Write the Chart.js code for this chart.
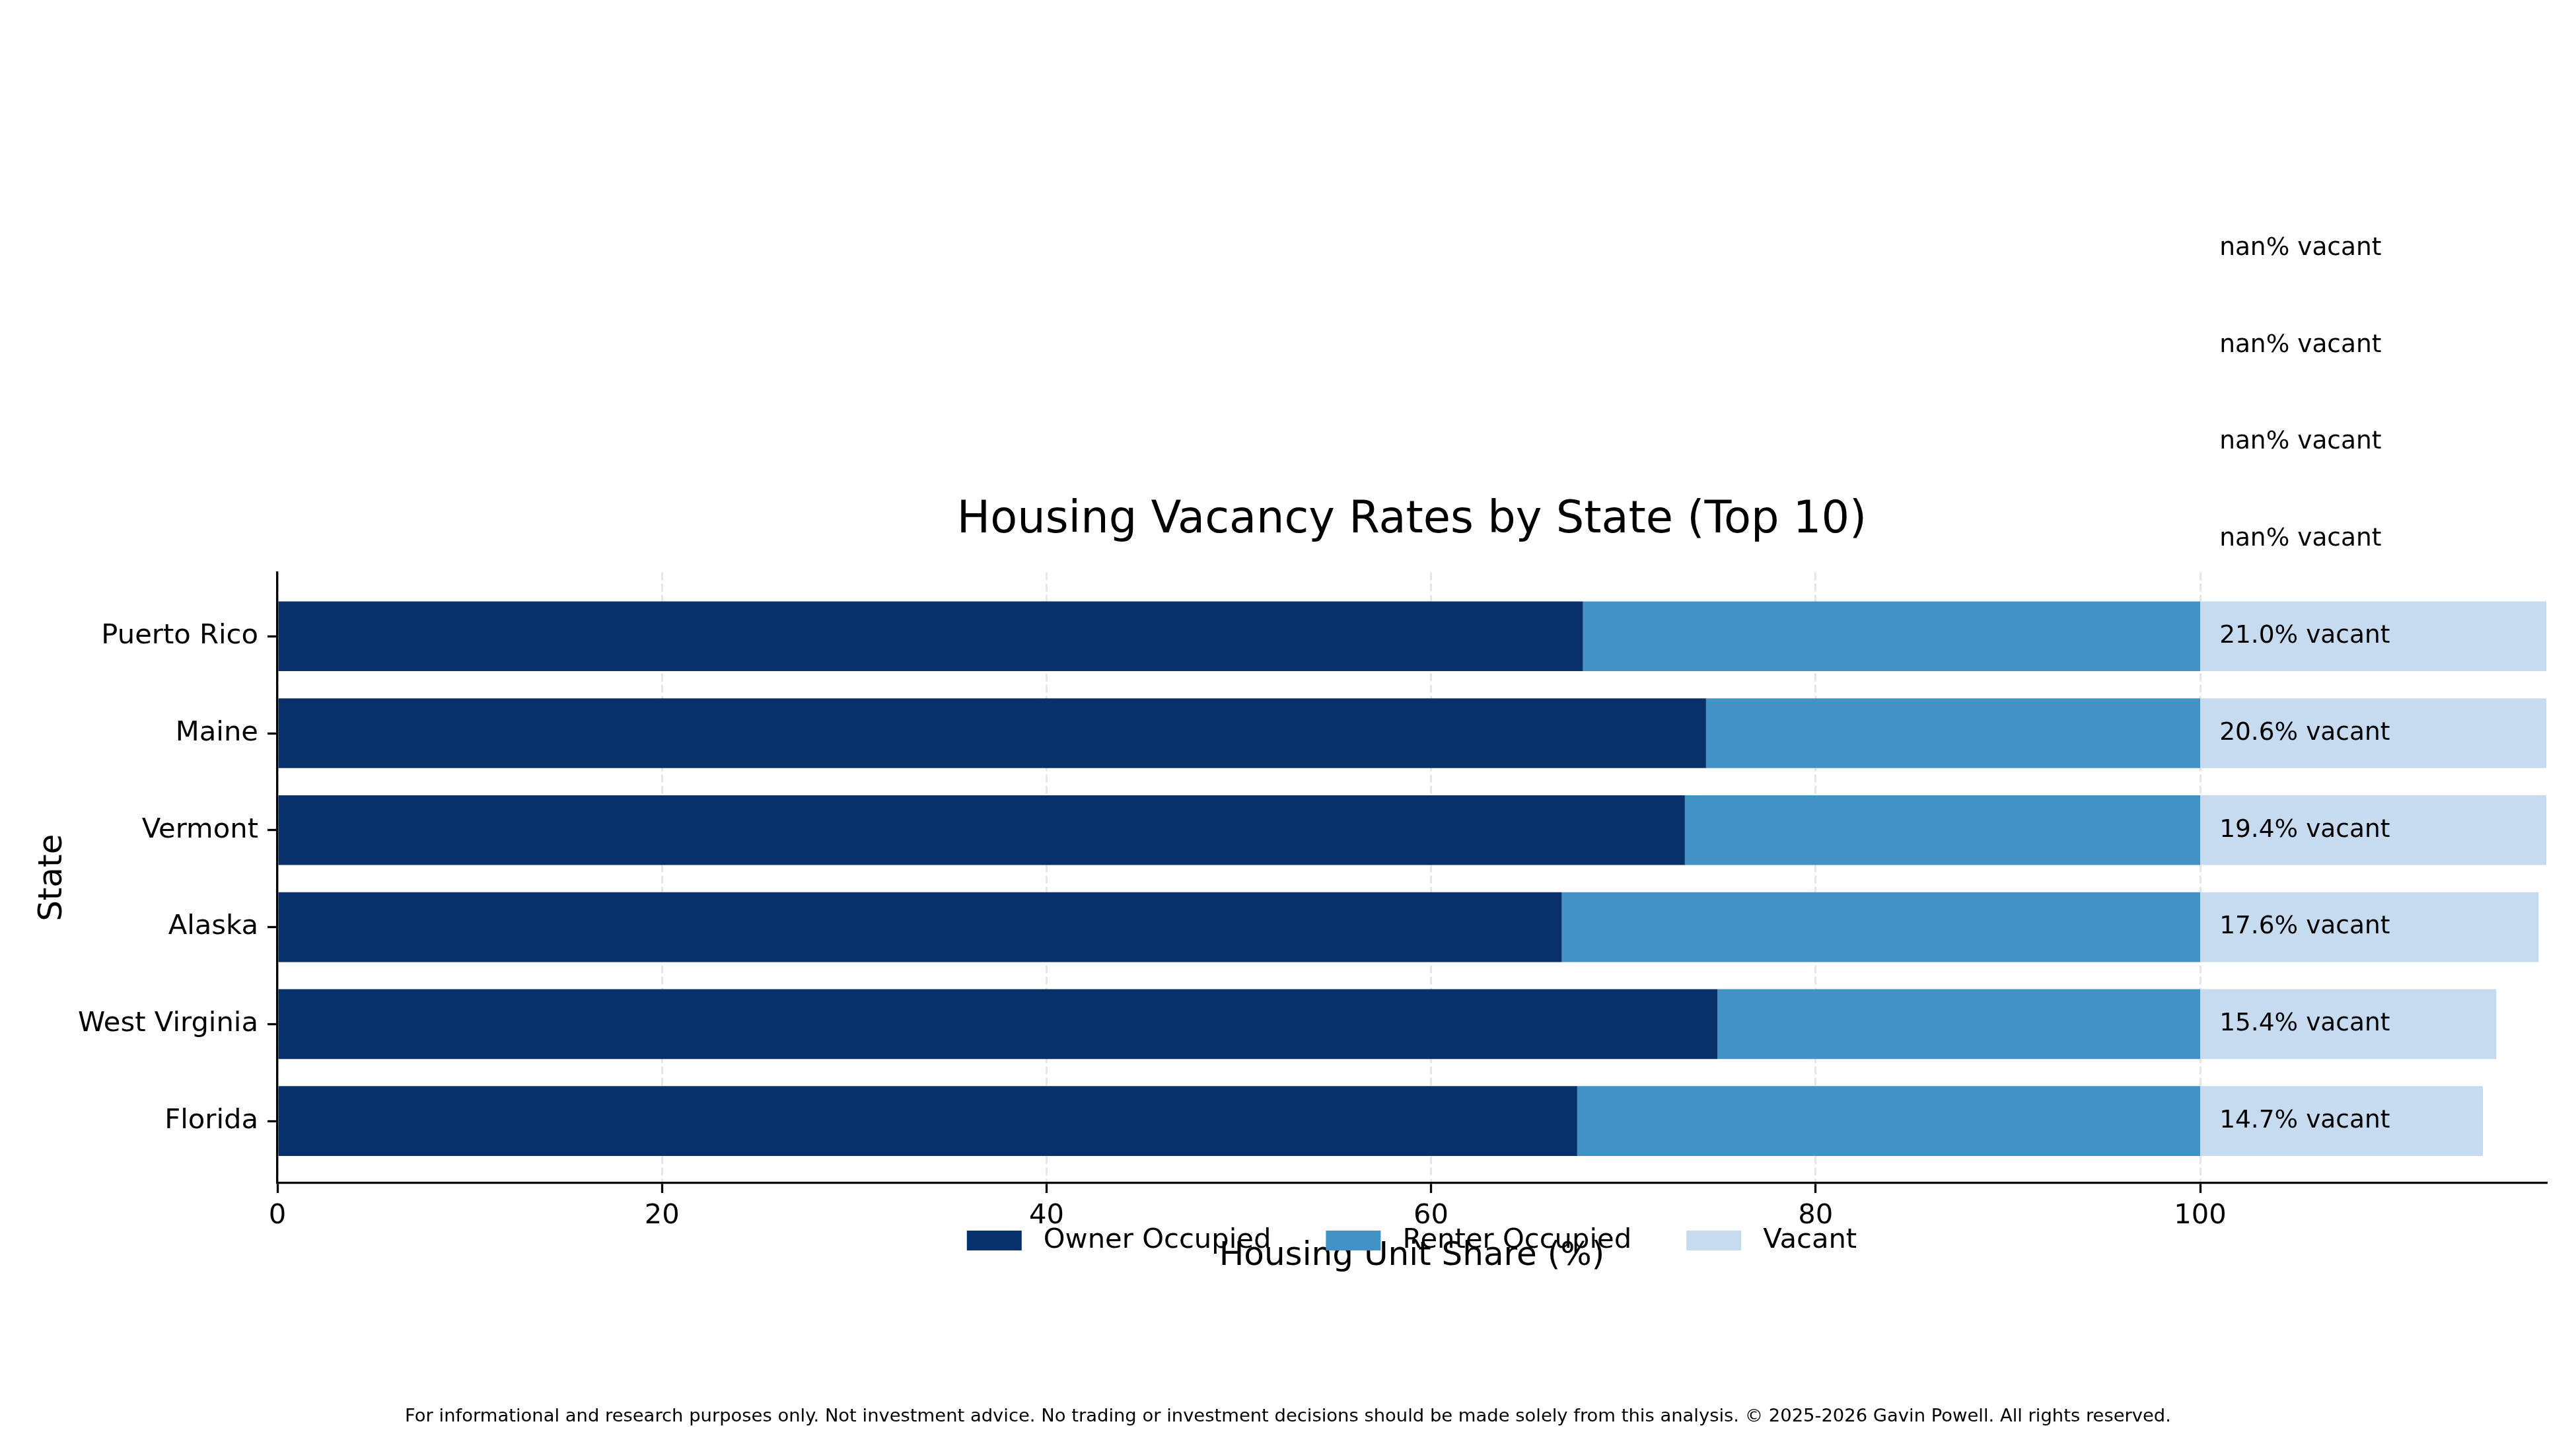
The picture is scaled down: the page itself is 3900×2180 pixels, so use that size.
<!DOCTYPE html>
<html>
<head>
<meta charset="utf-8">
<title>Housing Vacancy Rates by State (Top 10)</title>
<script src="https://cdn.jsdelivr.net/npm/chart.js@4.4.1/dist/chart.umd.min.js"></script>
<style>
  html, body { margin: 0; padding: 0; background: #fff; }
  canvas { display: block; }
</style>
</head>
<body>
<canvas id="vacancyChart" width="3900" height="2180"></canvas>
<script>
// rows from the bottom up; the last four rows have no data (shown as nan)
const states = ['Florida', 'West Virginia', 'Alaska', 'Vermont', 'Maine', 'Puerto Rico', '', '', '', ''];
const ownerPct = [67.6, 74.9, 66.8, 73.2, 74.3, 67.9, null, null, null, null];
const renterPct = [32.4, 25.1, 33.2, 26.8, 25.7, 32.1, null, null, null, null];
const vacantPct = [14.7, 15.4, 17.6, 19.4, 20.6, 21.0, null, null, null, null];
const xTicks = [0, 20, 40, 60, 80, 100];
const footerText = 'For informational and research purposes only. Not investment advice. No trading or investment decisions should be made solely from this analysis. \u00A9 2025-2026 Gavin Powell. All rights reserved.';

Chart.defaults.font.family = "'DejaVu Sans', sans-serif";
Chart.defaults.color = '#000';

function toPoints(values) {
    return values.map((v, i) => ({ x: v, y: i }));
}

// "xx.x% vacant" text next to each bar
const vacantLabels = {
    id: 'vacantLabels',
    afterDatasetsDraw(chart) {
        const { ctx, scales: { x, y } } = chart;
        ctx.save();
        ctx.font = "37.5px 'DejaVu Sans'";
        ctx.fillStyle = '#000';
        ctx.textAlign = 'left';
        ctx.textBaseline = 'middle';
        vacantPct.forEach((v, i) => {
            const txt = (v === null ? 'nan' : v.toFixed(1)) + '% vacant';
            ctx.fillText(txt, x.getPixelForValue(101), y.getPixelForValue(i));
        });
        ctx.restore();
    }
};

// legend sits just under the tick labels, over the axis title
const bottomLegend = {
    id: 'bottomLegend',
    afterDraw(chart) {
        const { ctx, chartArea } = chart;
        const boxW = 83, boxH = 30, gap = 33, colGap = 83;
        ctx.save();
        ctx.font = "41.7px 'DejaVu Sans'";
        const items = chart.data.datasets.map(d => ({
            label: d.label,
            color: d.backgroundColor,
            w: ctx.measureText(d.label).width
        }));
        const total = items.reduce((s, it) => s + boxW + gap + it.w, 0) + colGap * (items.length - 1);
        let cx = (chartArea.left + chartArea.right) / 2 - total / 2;
        const cy = chartArea.bottom + 87;
        ctx.textAlign = 'left';
        ctx.textBaseline = 'middle';
        items.forEach(it => {
            ctx.fillStyle = it.color;
            ctx.fillRect(cx, cy - boxH / 2, boxW, boxH);
            ctx.fillStyle = '#000';
            ctx.fillText(it.label, cx + boxW + gap, cy);
            cx += boxW + gap + it.w + colGap;
        });

        ctx.font = "27.4px 'DejaVu Sans'";
        ctx.textAlign = 'center';
        ctx.textBaseline = 'alphabetic';
        ctx.fillText(footerText, chart.width / 2, 2152);
        ctx.restore();
    }
};

const ctx = document.getElementById('vacancyChart').getContext('2d');

const vacancyChart = new Chart(ctx, {
    type: 'bar',
    data: {
        datasets: [{
            label: 'Owner Occupied',
            data: toPoints(ownerPct),
            backgroundColor: '#08306b'
        }, {
            label: 'Renter Occupied',
            data: toPoints(renterPct),
            backgroundColor: '#4292c6'
        }, {
            label: 'Vacant',
            data: toPoints(vacantPct),
            backgroundColor: '#c6dbef'
        }]
    },
    options: {
        indexAxis: 'y',
        responsive: false,
        animation: false,
        devicePixelRatio: 1,
        datasets: {
            bar: {
                categoryPercentage: 1,
                barPercentage: 0.72,
                borderWidth: 0
            }
        },
        layout: {
            padding: { top: 748, right: 45, bottom: 189, left: 0 }
        },
        scales: {
            x: {
                type: 'linear',
                stacked: true,
                min: 0,
                max: 118,
                afterBuildTicks: (scale) => {
                    scale.ticks = xTicks.map(v => ({ value: v }));
                },
                afterFit: (scale) => { scale.height = 200; },
                ticks: {
                    font: { size: 41.7, lineHeight: 1 },
                    color: '#000',
                    padding: 14,
                    maxRotation: 0
                },
                grid: {
                    color: '#e6e6e6',
                    lineWidth: 3,
                    drawTicks: true,
                    tickLength: 15,
                    tickColor: '#000',
                    tickWidth: 3.3
                },
                border: {
                    color: '#000',
                    width: 3.3,
                    dash: [12, 5]
                },
                title: {
                    display: true,
                    text: 'Housing Unit Share (%)',
                    font: { size: 50, lineHeight: 1.2 },
                    color: '#000',
                    padding: { top: 0, bottom: 59 }
                }
            },
            y: {
                type: 'linear',
                stacked: true,
                offset: false,
                min: -0.64,
                max: 5.66,
                afterBuildTicks: (scale) => {
                    scale.ticks = states
                        .map((s, i) => ({ value: i }))
                        .filter(t => t.value <= scale.max);
                },
                afterFit: (scale) => { scale.width = 420; },
                ticks: {
                    autoSkip: false,
                    font: { size: 41.7 },
                    color: '#000',
                    padding: 14,
                    callback: (value) => states[value]
                },
                grid: {
                    offset: false,
                    drawOnChartArea: false,
                    drawTicks: true,
                    tickLength: 15,
                    tickColor: '#000',
                    tickWidth: 3.3
                },
                border: {
                    color: '#000',
                    width: 3.3
                },
                title: {
                    display: true,
                    text: 'State',
                    font: { size: 50, lineHeight: 1.2 },
                    color: '#000',
                    padding: { top: 50, bottom: 0 }
                }
            }
        },
        plugins: {
            legend: { display: false },
            tooltip: { enabled: false },
            title: {
                display: true,
                text: 'Housing Vacancy Rates by State (Top 10)',
                fullSize: false,
                color: '#000',
                font: { size: 67, weight: 'normal', lineHeight: 1.2 },
                padding: { top: 0, bottom: 38 }
            }
        }
    },
    plugins: [vacantLabels, bottomLegend]
});
</script>
</body>
</html>
